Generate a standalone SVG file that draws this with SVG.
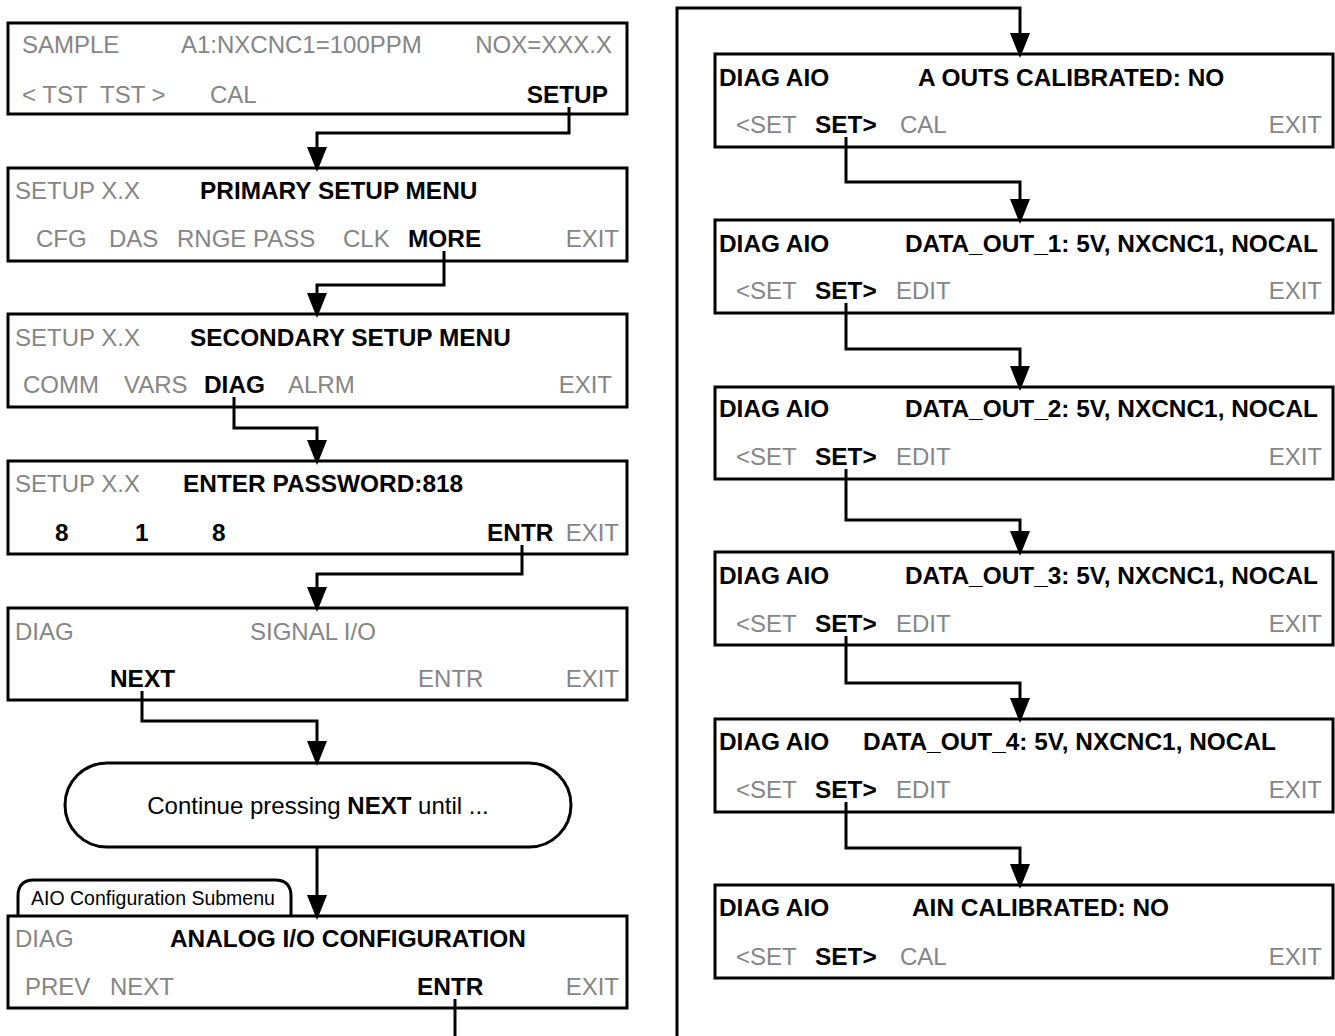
<svg xmlns="http://www.w3.org/2000/svg" width="1335" height="1036" viewBox="0 0 1335 1036">
<defs>
<style>
text{font-family:"Liberation Sans",Arial,sans-serif;font-size:24px}
.g{fill:#858585}
.b{font-weight:bold;fill:#000;font-size:24.4px}
.k{fill:#000}
.e{text-anchor:end}
.box{fill:#fff;stroke:#000;stroke-width:3}
.tab{font-size:19.5px}
.conn{fill:none;stroke:#000;stroke-width:3;marker-end:url(#arr)}
.plain{fill:none;stroke:#000;stroke-width:3}
</style>
<marker id="arr" markerUnits="userSpaceOnUse" markerWidth="25" markerHeight="20" viewBox="0 0 25 20" refX="1" refY="10" orient="auto">
<path d="M0,0 L25,10 L0,20 z" fill="#000"/>
</marker>
</defs>
<rect width="1335" height="1036" fill="#fff"/>

<g id="n1"><rect class="box" x="8" y="23" width="619" height="91"/>
<text class="g" x="22" y="53">SAMPLE</text><text class="g" x="181" y="53">A1:NXCNC1=100PPM</text><text class="g e" x="612" y="53">NOX=XXX.X</text>
<text class="g" x="22" y="103" xml:space="preserve">&lt; TST  TST &gt;</text><text class="g" x="210" y="103">CAL</text><text class="b e" x="608" y="103">SETUP</text></g>

<g id="n2"><rect class="box" x="8" y="168" width="619" height="93"/>
<text class="g" x="15" y="199">SETUP X.X</text><text class="b" x="200" y="199">PRIMARY SETUP MENU</text>
<text class="g" x="36" y="247">CFG</text><text class="g" x="109" y="247">DAS</text><text class="g" x="177" y="247">RNGE PASS</text><text class="g" x="343" y="247">CLK</text><text class="b" x="408" y="247">MORE</text><text class="g e" x="619" y="247">EXIT</text></g>

<g id="n3"><rect class="box" x="8" y="314" width="619" height="93"/>
<text class="g" x="15" y="346">SETUP X.X</text><text class="b" x="190" y="346">SECONDARY SETUP MENU</text>
<text class="g" x="23" y="393">COMM</text><text class="g" x="124" y="393">VARS</text><text class="b" x="204" y="393">DIAG</text><text class="g" x="288" y="393">ALRM</text><text class="g e" x="612" y="393">EXIT</text></g>

<g id="n4"><rect class="box" x="8" y="461" width="619" height="93"/>
<text class="g" x="15" y="492">SETUP X.X</text><text class="b" x="183" y="492">ENTER PASSWORD:818</text>
<text class="b" x="55" y="541">8</text><text class="b" x="135" y="541">1</text><text class="b" x="212" y="541">8</text><text class="b" x="487" y="541">ENTR</text><text class="g e" x="619" y="541">EXIT</text></g>

<g id="n5"><rect class="box" x="8" y="608" width="619" height="92"/>
<text class="g" x="15" y="640">DIAG</text><text class="g" x="250" y="640">SIGNAL I/O</text>
<text class="b" x="110" y="687">NEXT</text><text class="g" x="418" y="687">ENTR</text><text class="g e" x="619" y="687">EXIT</text></g>

<g id="n6"><rect class="box" x="65" y="763" width="506" height="84" rx="42" ry="42"/>
<text class="k" x="318" y="814" text-anchor="middle">Continue pressing <tspan font-weight="bold">NEXT</tspan> until ...</text></g>

<g id="n7"><path class="box" d="M18,916 V896 Q18,880 34,880 H275 Q291,880 291,896 V916"/>
<text class="k tab" x="31" y="905">AIO Configuration Submenu</text>
<rect class="box" x="8" y="916" width="619" height="92"/>
<text class="g" x="15" y="947">DIAG</text><text class="b" x="170" y="947">ANALOG I/O CONFIGURATION</text>
<text class="g" x="25" y="995">PREV</text><text class="g" x="110" y="995">NEXT</text><text class="b" x="417" y="995">ENTR</text><text class="g e" x="619" y="995">EXIT</text></g>

<g id="r1"><rect class="box" x="715" y="54" width="618" height="93"/>
<text class="b" x="719" y="86">DIAG AIO</text><text class="b" x="918" y="86">A OUTS CALIBRATED: NO</text>
<text class="g" x="736" y="133">&lt;SET</text><text class="b" x="815" y="133">SET&gt;</text><text class="g" x="900" y="133">CAL</text><text class="g e" x="1322" y="133">EXIT</text></g>

<g id="r2"><rect class="box" x="715" y="220" width="618" height="93"/>
<text class="b" x="719" y="252">DIAG AIO</text><text class="b" x="905" y="252">DATA_OUT_1: 5V, NXCNC1, NOCAL</text>
<text class="g" x="736" y="299">&lt;SET</text><text class="b" x="815" y="299">SET&gt;</text><text class="g" x="896" y="299">EDIT</text><text class="g e" x="1322" y="299">EXIT</text></g>

<g id="r3"><rect class="box" x="715" y="387" width="618" height="92"/>
<text class="b" x="719" y="417">DIAG AIO</text><text class="b" x="905" y="417">DATA_OUT_2: 5V, NXCNC1, NOCAL</text>
<text class="g" x="736" y="465">&lt;SET</text><text class="b" x="815" y="465">SET&gt;</text><text class="g" x="896" y="465">EDIT</text><text class="g e" x="1322" y="465">EXIT</text></g>

<g id="r4"><rect class="box" x="715" y="552" width="618" height="93"/>
<text class="b" x="719" y="584">DIAG AIO</text><text class="b" x="905" y="584">DATA_OUT_3: 5V, NXCNC1, NOCAL</text>
<text class="g" x="736" y="632">&lt;SET</text><text class="b" x="815" y="632">SET&gt;</text><text class="g" x="896" y="632">EDIT</text><text class="g e" x="1322" y="632">EXIT</text></g>

<g id="r5"><rect class="box" x="715" y="719" width="618" height="93"/>
<text class="b" x="719" y="750">DIAG AIO</text><text class="b" x="863" y="750">DATA_OUT_4: 5V, NXCNC1, NOCAL</text>
<text class="g" x="736" y="798">&lt;SET</text><text class="b" x="815" y="798">SET&gt;</text><text class="g" x="896" y="798">EDIT</text><text class="g e" x="1322" y="798">EXIT</text></g>

<g id="r6"><rect class="box" x="715" y="885" width="618" height="93"/>
<text class="b" x="719" y="916">DIAG AIO</text><text class="b" x="912" y="916">AIN CALIBRATED: NO</text>
<text class="g" x="736" y="965">&lt;SET</text><text class="b" x="815" y="965">SET&gt;</text><text class="g" x="900" y="965">CAL</text><text class="g e" x="1322" y="965">EXIT</text></g>

<g id="connectors">
<path class="conn" d="M569,107 V133 H317 V148"/>
<path class="conn" d="M444,251 V285 H317 V294"/>
<path class="conn" d="M234,397 V428 H317 V441"/>
<path class="conn" d="M522,545 V574 H317 V588"/>
<path class="conn" d="M142,691 V721 H317 V742"/>
<path class="conn" d="M317,847 V896"/>
<path class="plain" d="M455,999 V1036"/>
<path class="conn" d="M677,1036 V8 H1020 V34"/>
<path class="conn" d="M846,137 V182 H1020 V200"/>
<path class="conn" d="M846,303 V349 H1020 V367"/>
<path class="conn" d="M846,469 V520 H1020 V532"/>
<path class="conn" d="M846,636 V683 H1020 V699"/>
<path class="conn" d="M846,802 V848 H1020 V865"/>
</g>
</svg>
